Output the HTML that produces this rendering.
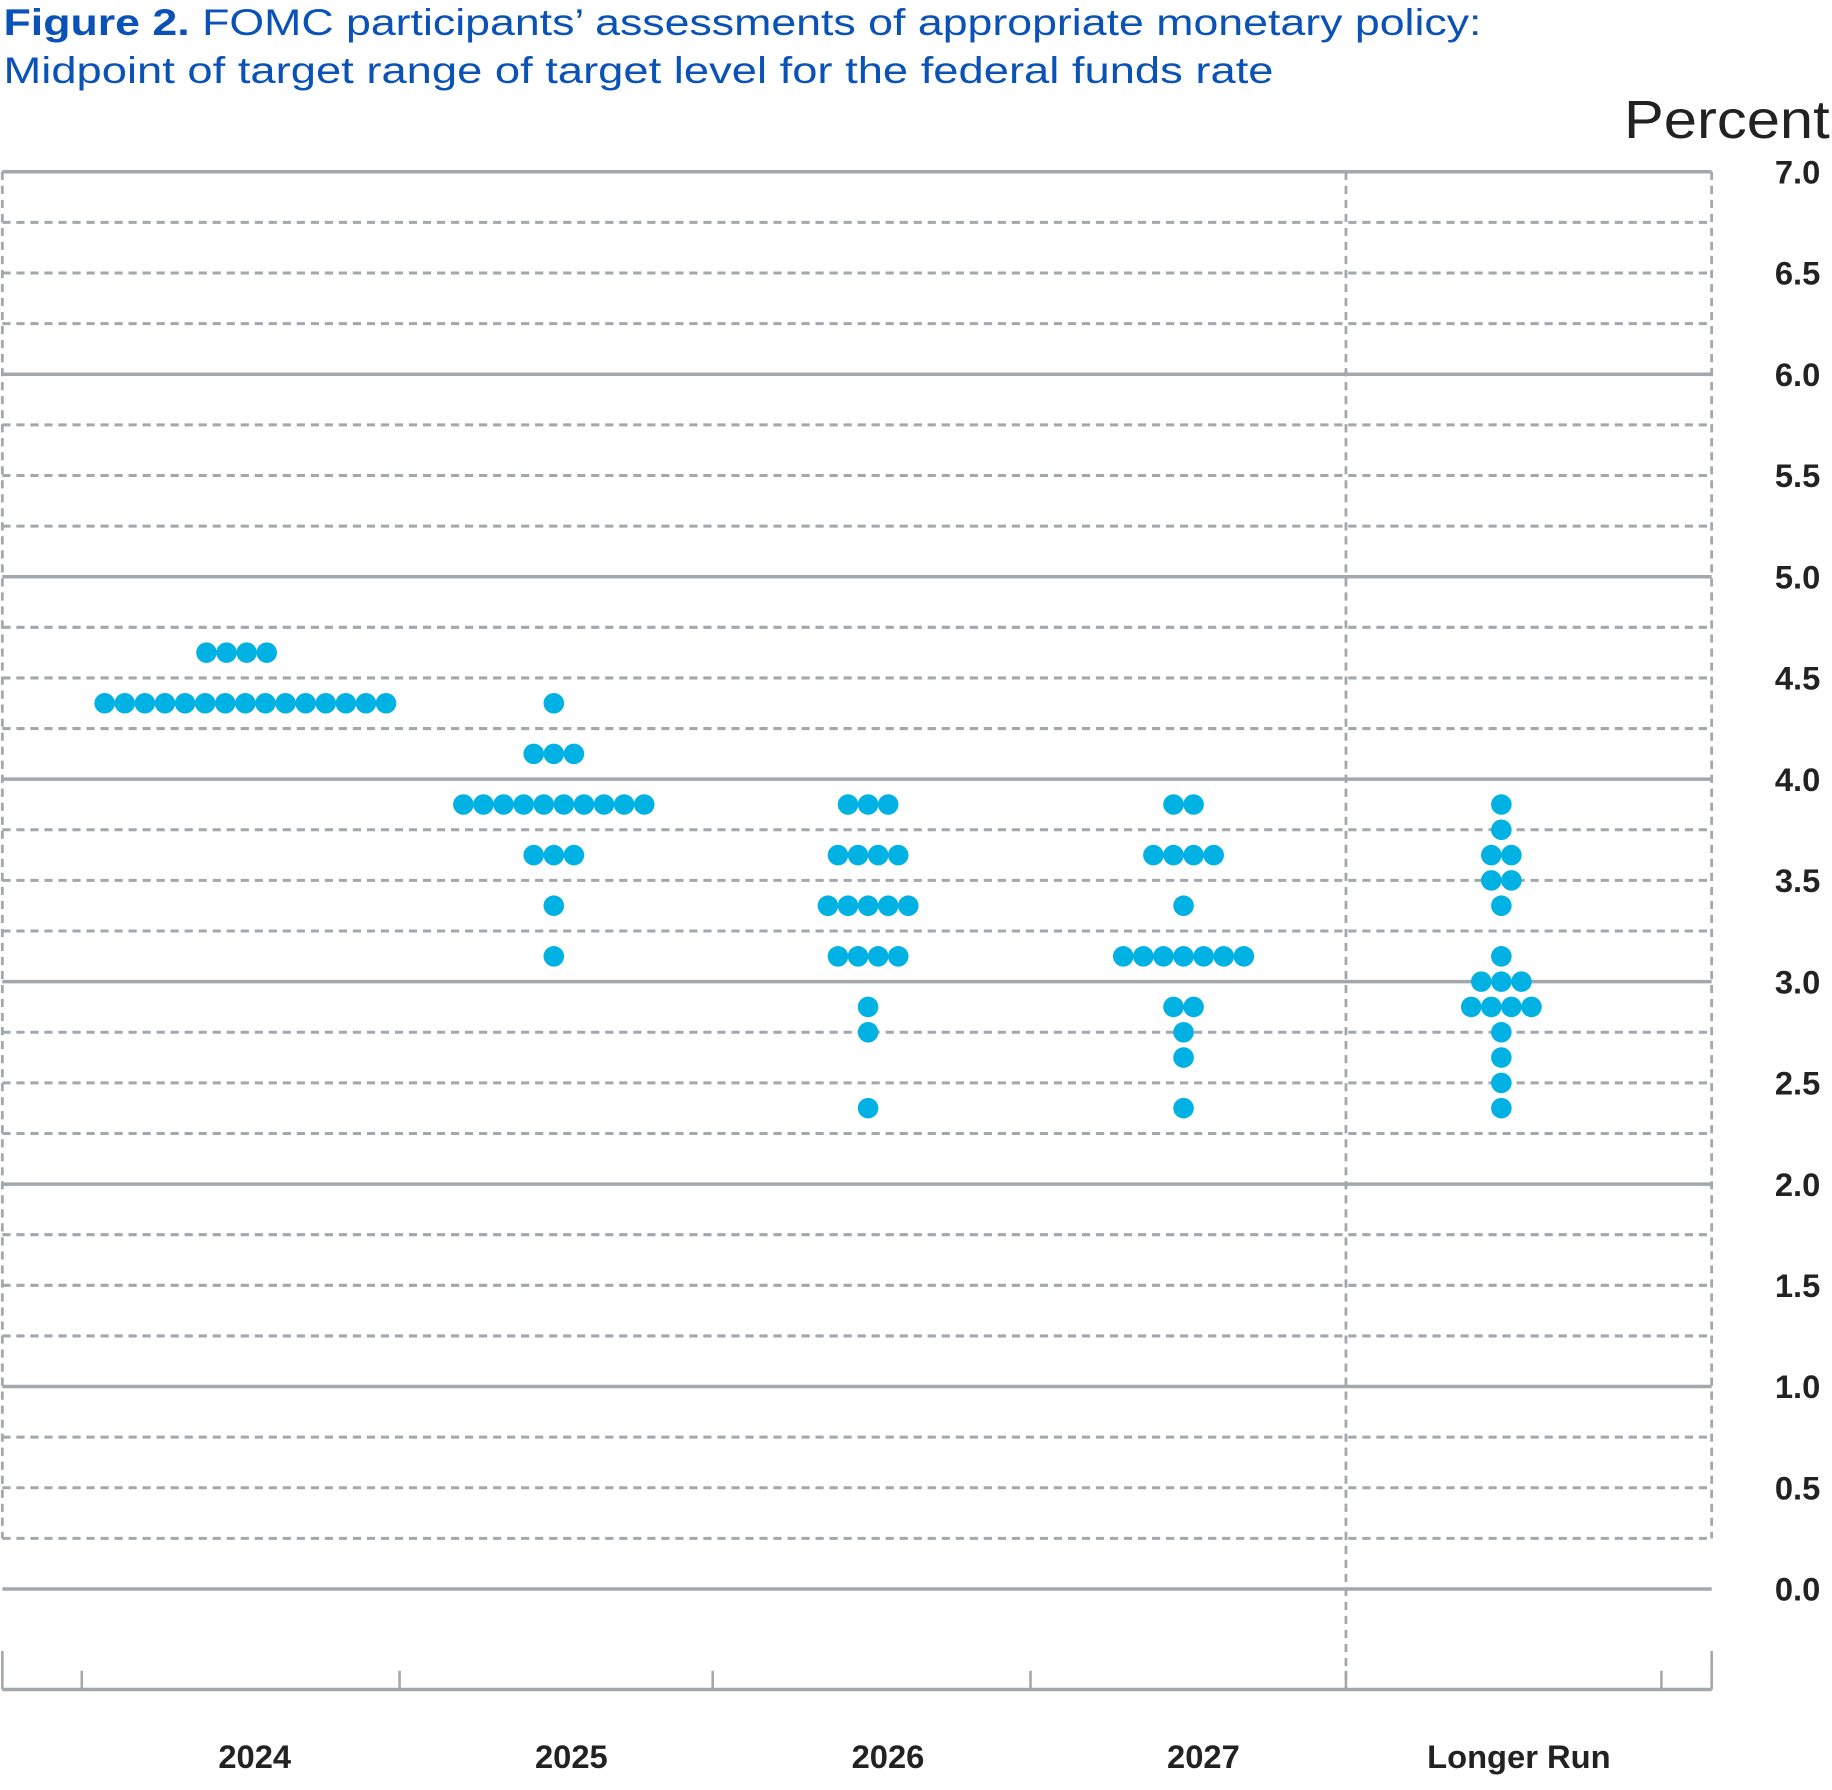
<!DOCTYPE html>
<html><head><meta charset="utf-8"><style>
html,body{margin:0;padding:0;background:#fff}
svg{display:block}
text{font-family:"Liberation Sans",sans-serif}
</style></head><body>
<svg id="chart" width="1832" height="1790" viewBox="0 0 1568 1532" xmlns="http://www.w3.org/2000/svg">
<text x="3" y="30" font-size="32" fill="#0a52b8" textLength="1265" lengthAdjust="spacingAndGlyphs"><tspan font-weight="bold">Figure 2.</tspan> FOMC participants’ assessments of appropriate monetary policy:</text>
<text x="3" y="71" font-size="32" fill="#0a52b8" textLength="1087" lengthAdjust="spacingAndGlyphs">Midpoint of target range of target level for the federal funds rate</text>
<text x="1566" y="118" font-size="46" text-anchor="end" fill="#222" textLength="176" lengthAdjust="spacingAndGlyphs">Percent</text>
<g id="grid"></g>
<g id="dots"></g>
</svg>
<script>
const categories = ["2024","2025","2026","2027","Longer Run"];
const yTicks = ["0.0","0.5","1.0","1.5","2.0","2.5","3.0","3.5","4.0","4.5","5.0","5.5","6.0","6.5","7.0"];
const dots2024 = [[4.625,4],[4.375,15]];
const dots2025 = [[4.375,1],[4.125,3],[3.875,10],[3.625,3],[3.375,1],[3.125,1]];
const dots2026 = [[3.875,3],[3.625,4],[3.375,5],[3.125,4],[2.875,1],[2.75,1],[2.375,1]];
const dots2027 = [[3.875,2],[3.625,4],[3.375,1],[3.125,7],[2.875,2],[2.75,1],[2.625,1],[2.375,1]];
const dotsLR = [[3.875,1],[3.75,1],[3.625,2],[3.5,2],[3.375,1],[3.125,1],[3.0,3],[2.875,4],[2.75,1],[2.625,1],[2.5,1],[2.375,1]];
const series = [dots2024,dots2025,dots2026,dots2027,dotsLR];

const NS="http://www.w3.org/2000/svg";
const L=2,R=1465,Y0=1360,Y7=147;
const y = v => Y0 - (Y0-Y7)*v/7;
const centers=[210,474,743,1013,1285];
const x = i => centers[i];
const grid=document.getElementById('grid'), dg=document.getElementById('dots');
const GC="#a3a8ad";
function mk(tag,attrs,parent){const e=document.createElementNS(NS,tag);for(const k in attrs)e.setAttribute(k,attrs[k]);parent.appendChild(e);return e;}
for(let k=0;k<=28;k++){
  const v=k*0.25;
  const solid = k%4===0;
  const ln=mk('line',{x1:L,x2:R,y1:y(v),y2:y(v),stroke:GC,'stroke-width':solid?3:2.6,'stroke-dasharray':solid?'none':'7 5'},grid);
  
  
}
[[L,y(7),y(0.25)],[R,y(7),y(0.25)],[1152,y(7),1446]].forEach(a=>{
  const ln=mk('line',{x1:a[0],x2:a[0],y1:a[1],y2:a[2],stroke:GC,'stroke-width':2.4,'stroke-dasharray':'7 5'},grid);
  
  
});
const ax=mk('line',{x1:L,x2:R,y1:1446,y2:1446,stroke:GC,'stroke-width':3},grid);


[[L,1413],[R,1413],[70,1430],[342,1430],[610,1430],[882,1430],[1152,1430],[1422,1430]].forEach(t=>{
  const ln=mk('line',{x1:t[0],x2:t[0],y1:t[1],y2:1446,stroke:GC,'stroke-width':2.2},grid);
  
  
});
yTicks.forEach(t=>{
  const tx=mk('text',{x:1558,y:y(parseFloat(t))+10,'font-size':28,'font-weight':'bold','text-anchor':'end',fill:'#222'},grid);
  tx.textContent=t;
  
  
});
categories.forEach((c,i)=>{
  const cx = i===4?1300:[218,489,760,1030][i];
  const tx=mk('text',{x:cx,y:1513,'font-size':28,'font-weight':'bold','text-anchor':'middle',fill:'#222'},grid);
  tx.textContent=c;
  
  
});
const SP=17.2;
series.forEach((s,i)=>{
  s.forEach(([v,n])=>{
    const off = (i===0 && n===4) ? -7.5 : 0;
    for(let j=0;j<n;j++){
      const cx=x(i)+off+(j-(n-1)/2)*SP;
      const c=mk('circle',{cx:cx,cy:y(v),r:8.8,fill:'#00b2e3'},dg);
      
      
    }
  });
});
</script>
</body></html>
